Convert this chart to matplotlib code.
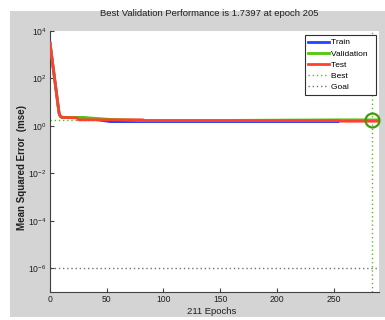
import math
import matplotlib
matplotlib.use("Agg")
import matplotlib.pyplot as plt
from matplotlib.lines import Line2D
from matplotlib.ticker import FixedLocator, FuncFormatter

plt.rcParams['font.family'] = ['Liberation Sans', 'DejaVu Sans']
plt.rcParams['mathtext.default'] = 'regular'

# ---- data ----
train_epochs = [0, 1, 2, 3, 4, 5, 6, 7, 8, 9, 10, 12, 30, 53, 82, 150, 254]
train_mse = [3100, 1320, 560, 240, 102, 44, 18.6, 7.9, 3.5, 2.6, 2.35, 2.25, 2.2, 1.52, 1.52, 1.52, 1.52]

val_epochs = [0, 1, 2, 3, 4, 5, 6, 7, 8, 9, 10, 12, 30, 53, 82, 150, 255, 290]
val_mse = [3100, 1320, 560, 240, 102, 44, 18.6, 7.9, 3.5, 2.6, 2.35, 2.3, 2.26, 1.88, 1.70, 1.70, 1.80, 1.80]

test_epochs = [0, 1, 2, 3, 4, 5, 6, 7, 8, 9, 10, 12, 24, 25, 82, 83, 150, 255, 256, 290]
test_mse = [3100, 1320, 560, 240, 102, 44, 18.6, 7.9, 3.5, 2.6, 2.35, 2.25, 2.2, 1.81, 1.81, 1.66, 1.66, 1.66, 1.58, 1.58]

best_epoch = 284
best_value = 1.7397
goal_value = 1e-6

title_text = "Best Validation Performance is 1.7397 at epoch 205"
xlabel_text = "211 Epochs"
ylabel_text = "Mean Squared Error  (mse)"
legend_labels = ["Train", "Validation", "Test", "Best", "Goal"]
xticks = [0, 50, 100, 150, 200, 250]
yticks_exp = [-6, -4, -2, 0, 2, 4]

# ---- figure ----
W, H = 385, 320
fig = plt.figure(figsize=(W / 100, H / 100), dpi=100, facecolor='white')
bg = fig.add_axes([10 / W, 3 / H, 375 / W, 306 / H], zorder=-5)
bg.set_facecolor('#d4d4d4')
bg.set_xticks([]); bg.set_yticks([])
for s in bg.spines.values():
    s.set_visible(False)

ax = fig.add_axes([50 / W, (H - 292) / H, 329 / W, 261 / H], zorder=1)
ax.set_facecolor('white')

ax.set_yscale('log')
ax.set_xlim(0, 290)
ax.set_ylim(1e-7, 1e4)

# best & goal lines
ax.axhline(best_value, color='#5cb82a', lw=1.0, ls=(0, (1, 2)), zorder=1)
ax.axvline(best_epoch, color='#5cb82a', lw=1.0, ls=(0, (1, 2)), zorder=1)
ax.axhline(goal_value, color='#707070', lw=1.0, ls=(0, (1, 2)), zorder=1)

l1, = ax.plot(train_epochs, train_mse, color='#2244ff', lw=2.0, zorder=2)
l2, = ax.plot(val_epochs, val_mse, color='#4fc80a', lw=2.0, zorder=3)
l3, = ax.plot(test_epochs, test_mse, color='#ff4030', lw=2.0, zorder=4)
ax.plot([best_epoch], [best_value], marker='o', ms=10, mfc='none',
        mec='#3f9a0a', mew=1.6, zorder=5, clip_on=False)

h4 = Line2D([], [], color='#5cb82a', lw=1.0, ls=(0, (1, 2)))
h5 = Line2D([], [], color='#707070', lw=1.0, ls=(0, (1, 2)))
leg = ax.legend([l1, l2, l3, h4, h5], [lab + '  ' for lab in legend_labels],
                loc='upper right', bbox_to_anchor=(0.992, 0.985), borderaxespad=0,
                fontsize=6, frameon=True, fancybox=False, framealpha=1,
                edgecolor='#303030', handlelength=2.5, handletextpad=0.25,
                labelspacing=0.4, borderpad=0.45)
leg.get_frame().set_linewidth(0.8)

for s in ['top', 'right']:
    ax.spines[s].set_visible(False)
for s in ['left', 'bottom']:
    ax.spines[s].set_color('#404040')
    ax.spines[s].set_linewidth(0.8)

ax.xaxis.set_major_locator(FixedLocator(xticks))
ax.yaxis.set_major_locator(FixedLocator([10.0 ** e for e in yticks_exp]))
ax.yaxis.set_minor_locator(FixedLocator([]))
ax.yaxis.set_major_formatter(FuncFormatter(lambda v, p: '$10^{%d}$' % round(math.log10(v))))
ax.tick_params(direction='in', length=3, width=0.8, color='#404040',
               labelsize=6.2, labelcolor='#202020', pad=2.5)

fig.text(209 / W, (H - 14) / H, title_text, ha='center', va='center',
         fontsize=6.8, color='#202020')
fig.text(212 / W, (H - 312) / H, xlabel_text, ha='center', va='center',
         fontsize=6.8, color='#202020')
fig.text(22 / W, (H - 168) / H, ylabel_text, ha='center', va='center',
         rotation=90, fontsize=7, fontweight='bold', color='#202020')

fig.savefig('out.png', dpi=100, facecolor='white')
